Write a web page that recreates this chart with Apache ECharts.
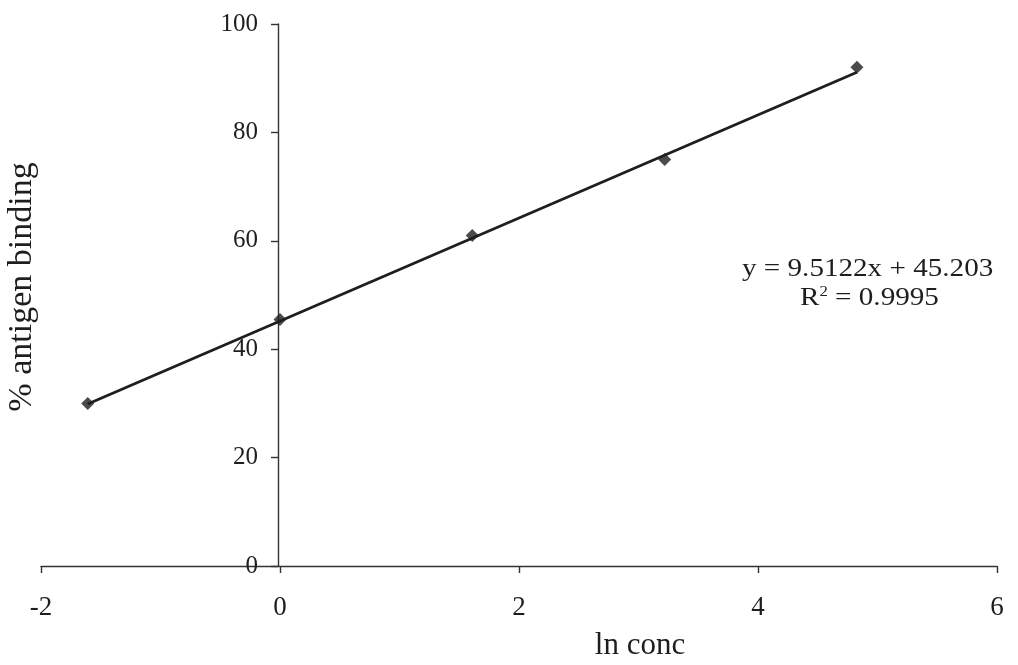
<!DOCTYPE html>
<html>
<head>
<meta charset="utf-8">
<script src="https://cdn.jsdelivr.net/npm/echarts@6/dist/echarts.min.js"></script>
<style>
html,body{margin:0;padding:0;background:#fff;}
#chart{width:1018px;height:665px;}
</style>
</head>
<body>
<div id="chart"></div>
<script>
// Data
var lnConc = [-1.609, 0, 1.609, 3.219, 4.828];
var antigenBinding = [30, 45.5, 61, 75, 92];
var trendX = [-1.609, 4.828];
var trendY = [29.9, 91.1];
var xTicks = [-2, 0, 2, 4, 6];
var yTicks = [0, 20, 40, 60, 80, 100];
var equationText = 'y = 9.5122x + 45.203';
var r2Text = 'R{sup|2} = 0.9995';

var font = '"Liberation Serif", "DejaVu Serif", serif';
var ink = '#1e1e1e';

var chart = echarts.init(document.getElementById('chart'), null, {renderer: 'canvas'});
var pts = lnConc.map(function (x, i) { return [x, antigenBinding[i]]; });
var trend = trendX.map(function (x, i) { return [x, trendY[i]]; });

chart.setOption({
  animation: false,
  backgroundColor: '#fff',
  grid: {left: 41, right: 21, top: 24, bottom: 99, containLabel: false, outerBoundsMode: 'none'},
  xAxis: {
    type: 'value',
    min: xTicks[0], max: xTicks[xTicks.length - 1], interval: 2,
    name: 'ln conc', nameLocation: 'middle', nameGap: 64,
    nameTextStyle: {fontFamily: font, fontSize: 31, color: ink, padding: [0, 0, 0, 242]},
    axisLine: {show: true, onZero: true, lineStyle: {color: '#333', width: 1.4}},
    axisTick: {show: true, length: 7, inside: false, lineStyle: {color: '#333', width: 1.4}},
    axisLabel: {fontFamily: font, fontSize: 27, color: ink, margin: 28},
    splitLine: {show: false}
  },
  yAxis: {
    type: 'value',
    min: yTicks[0], max: yTicks[yTicks.length - 1], interval: 20,
    offset: -237,
    name: '% antigen binding', nameLocation: 'middle', nameGap: 239,
    nameTextStyle: {fontFamily: font, fontSize: 34, color: ink, padding: [0, 0, 0, 16]},
    axisLine: {show: true, onZero: false, lineStyle: {color: '#333', width: 1.4}},
    axisTick: {show: true, length: 7, inside: false, lineStyle: {color: '#333', width: 1.4}},
    axisLabel: {fontFamily: font, fontSize: 25, color: ink, margin: 20},
    splitLine: {show: false}
  },
  graphic: [{
    type: 'text', left: 742, top: 256, scaleX: 1.12,
    style: {text: equationText, font: '26px ' + font, fill: ink}
  }, {
    type: 'text', left: 800, top: 285, scaleX: 1.12,
    style: {
      text: r2Text, font: '26px ' + font, fill: ink,
      rich: {sup: {fontSize: 15, verticalAlign: 'top', fontFamily: font, fill: ink, padding: [0, 0, 12, 0]}}
    }
  }],
  series: [{
    type: 'line', data: trend, symbol: 'none',
    lineStyle: {color: ink, width: 2.8}, z: 2, silent: true
  }, {
    type: 'scatter', data: pts, symbol: 'diamond', symbolSize: 13,
    itemStyle: {color: ink}, z: 3
  }]
});
</script>
</body>
</html>
